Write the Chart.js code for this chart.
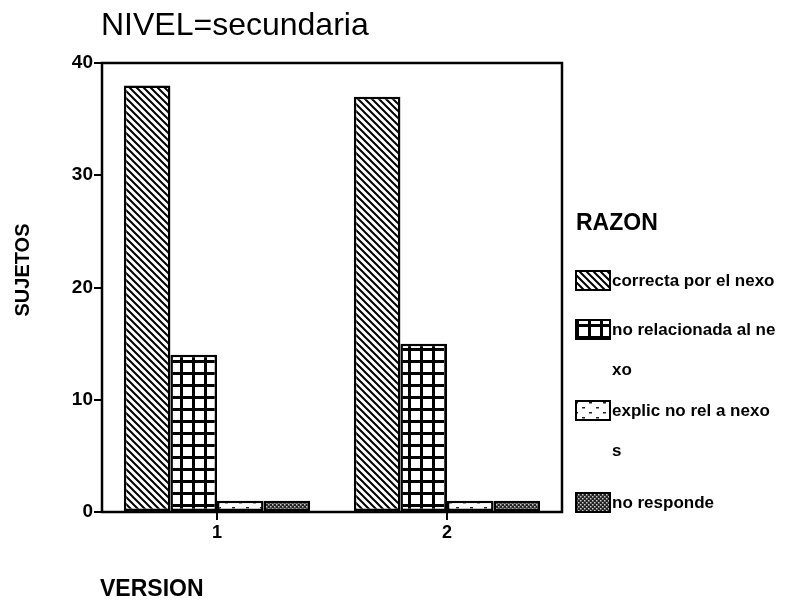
<!DOCTYPE html>
<html>
<head>
<meta charset="utf-8">
<script src="https://cdn.jsdelivr.net/npm/chart.js@4.4.0/dist/chart.umd.min.js"></script>
<style>
  html, body { margin: 0; padding: 0; background: #fff; }
  #wrap { width: 788px; height: 601px; position: relative; }
</style>
</head>
<body>
<div id="wrap"><canvas id="chart" width="788" height="601"></canvas></div>
<script>
// data
const versions = ["1", "2"];
const razones = ["correcta por el nexo", "no relacionada al nexo", "explic no rel a nexos", "no responde"];
const correcta = [38, 37];
const noRelacionada = [14, 15];
const explicNoRel = [1, 1];
const noResponde = [1, 1];
const yTicks = [0, 10, 20, 30, 40];
// legend text is wrapped as in the original
const legendLines = [["correcta por el nexo"], ["no relacionada al ne", "xo"], ["explic no rel a nexo", "s"], ["no responde"]];

const FONT = "'Liberation Sans', Arial, sans-serif";

// fill patterns
function makePattern(kind) {
  const c = document.createElement("canvas");
  const ctx = c.getContext("2d");
  if (kind === "diag") {
    c.width = 7; c.height = 7;
    ctx.fillStyle = "#fff"; ctx.fillRect(0, 0, 7, 7);
    ctx.strokeStyle = "#000"; ctx.lineWidth = 2;
    ctx.beginPath();
    ctx.moveTo(-1, -1); ctx.lineTo(8, 8);
    ctx.moveTo(-8, -1); ctx.lineTo(1, 8);
    ctx.moveTo(6, -1); ctx.lineTo(15, 8);
    ctx.stroke();
  } else if (kind === "grid") {
    c.width = 12; c.height = 12;
    ctx.fillStyle = "#fff"; ctx.fillRect(0, 0, 12, 12);
    ctx.fillStyle = "#000";
    ctx.fillRect(0, 0, 3, 12);
    ctx.fillRect(0, 0, 12, 3);
  } else if (kind === "dots") {
    c.width = 14; c.height = 10;
    ctx.fillStyle = "#fff"; ctx.fillRect(0, 0, 14, 10);
    ctx.fillStyle = "#222";
    ctx.fillRect(1, 2, 3, 1.5);
    ctx.fillRect(8, 7, 3, 1.5);
  } else {
    c.width = 4; c.height = 4;
    ctx.fillStyle = "#222"; ctx.fillRect(0, 0, 4, 4);
    ctx.fillStyle = "#ccc";
    ctx.fillRect(0, 0, 1.5, 1.5);
    ctx.fillRect(2, 2, 1.5, 1.5);
  }
  return ctx.createPattern(c, "repeat");
}
const fills = [makePattern("diag"), makePattern("grid"), makePattern("dots"), makePattern("dense")];

const decor = {
  id: "decor",
  afterDraw(chart) {
    const ctx = chart.ctx;
    const a = chart.chartArea;
    ctx.save();
    // plot frame
    ctx.strokeStyle = "#000";
    ctx.lineWidth = 2.5;
    ctx.strokeRect(a.left, a.top, a.right - a.left, a.bottom - a.top);

    ctx.fillStyle = "#000";
    ctx.textBaseline = "alphabetic";
    ctx.textAlign = "left";
    ctx.font = "32px " + FONT;
    ctx.fillText("NIVEL=secundaria", 101, 35);

    ctx.font = "bold 23px " + FONT;
    ctx.fillText("VERSION", 100, 596);
    ctx.fillText("RAZON", 576, 230);

    ctx.save();
    ctx.translate(23, 270);
    ctx.rotate(-Math.PI / 2);
    ctx.textAlign = "center";
    ctx.textBaseline = "middle";
    ctx.font = "bold 20px " + FONT;
    ctx.fillText("SUJETOS", 0, 0);
    ctx.restore();

    // legend
    const rowY = [280, 329, 410, 502];
    ctx.font = "bold 17px " + FONT;
    razones.forEach((r, i) => {
      const y = rowY[i];
      ctx.fillStyle = fills[i];
      ctx.fillRect(576, y - 9, 34, 19);
      ctx.lineWidth = 2;
      ctx.strokeStyle = "#000";
      ctx.strokeRect(576, y - 9, 34, 19);
      ctx.fillStyle = "#000";
      legendLines[i].forEach((t, k) => {
        ctx.fillText(t, 612, y + 6 + k * 40);
      });
    });
    ctx.restore();
  }
};

new Chart(document.getElementById("chart"), {
  type: "bar",
  data: {
    labels: versions,
    datasets: [correcta, noRelacionada, explicNoRel, noResponde].map((d, i) => ({
      label: razones[i],
      data: d,
      backgroundColor: fills[i],
      borderColor: "#000",
      borderWidth: 2.5,
      borderSkipped: false,
      categoryPercentage: 0.81,
      barPercentage: 1
    }))
  },
  options: {
    responsive: false,
    animation: false,
    layout: { padding: { top: 63, right: 226, left: 0, bottom: 0 } },
    plugins: {
      legend: { display: false },
      tooltip: { enabled: false }
    },
    scales: {
      x: {
        afterFit: s => { s.height = 89; },
        grid: { display: true, drawOnChartArea: false, offset: false, tickLength: 8, color: "#000", lineWidth: 2 },
        border: { display: false },
        ticks: { color: "#000", font: { size: 18, weight: "bold", family: FONT }, padding: 2 }
      },
      y: {
        min: yTicks[0],
        max: yTicks[yTicks.length - 1],
        afterFit: s => { s.width = 102; },
        afterBuildTicks: s => { s.ticks = yTicks.map(v => ({ value: v })); },
        grid: { display: true, drawOnChartArea: false, tickLength: 8, color: "#000", lineWidth: 2 },
        border: { display: false },
        ticks: { color: "#000", font: { size: 19, weight: "bold", family: FONT }, padding: 1 }
      }
    }
  },
  plugins: [decor]
});
</script>
</body>
</html>
